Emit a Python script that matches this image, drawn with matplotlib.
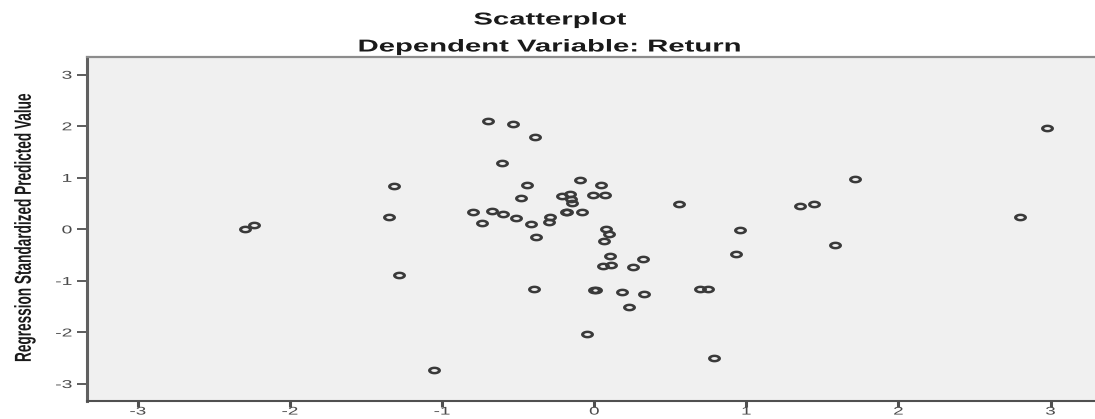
import numpy as np
import matplotlib
matplotlib.use("Agg")
import matplotlib.pyplot as plt
from matplotlib.path import Path
from matplotlib.markers import MarkerStyle
from matplotlib.transforms import Affine2D
from matplotlib.patheffects import AbstractPathEffect
from matplotlib.ticker import FixedLocator

# Standardized residuals (x) and standardized predicted values (y)
std_residual = [-2.296, -2.237, -1.315, -1.348, -1.285, -1.054, -0.701, -0.535,
                -0.388, -0.607, -0.442, -0.094, 0.046, -0.484, -0.214, -0.160,
                -0.153, -0.145, -0.007, 0.072, 0.555, -0.800, -0.671, -0.600,
                -0.513, -0.736, -0.416, -0.291, -0.296, -0.186, -0.180, -0.083,
                -0.383, 0.077, 0.095, 0.062, 0.103, 0.055, 0.112, 0.318,
                0.254, -0.398, -0.002, 0.012, 0.180, 0.327, 0.698, 0.750,
                0.226, -0.046, 0.785, 0.956, 0.934, 2.976, 1.714, 1.355,
                1.443, 1.583, 2.801]
std_predicted = [0.006, 0.083, 0.845, 0.232, -0.886, -2.721, 2.112, 2.047,
                 1.783, 1.279, 0.858, 0.961, 0.865, 0.600, 0.651, 0.684,
                 0.581, 0.516, 0.665, 0.665, 0.496, 0.341, 0.355, 0.302,
                 0.225, 0.116, 0.109, 0.244, 0.147, 0.329, 0.335, 0.329,
                 -0.143, 0.006, -0.085, -0.221, -0.517, -0.711, -0.698, -0.570,
                 -0.731, -1.151, -1.176, -1.172, -1.210, -1.250, -1.148, -1.157,
                 -1.510, -2.029, -2.494, -0.014, -0.473, 1.963, 0.975, 0.446,
                 0.490, -0.304, 0.238]

tick_values = [-3, -2, -1, 0, 1, 2, 3]
title_text = "Scatterplot"
subtitle_text = "Dependent Variable: Return"
ylabel_text = "Regression Standardized Predicted Value"

WIDEN = 1.7          # horizontal widening applied to all text
FONT = "Liberation Sans"


class WideText(AbstractPathEffect):
    """Draw a text artist horizontally widened about its anchor point."""

    def __init__(self, text, factor):
        super().__init__()
        self.text = text
        self.factor = factor

    def draw_path(self, renderer, gc, tpath, affine, rgbFace=None):
        x0 = self.text.get_transform().transform(
            self.text.get_unitless_position())[0]
        wide = Affine2D().translate(-x0, 0).scale(self.factor, 1).translate(x0, 0)
        renderer.draw_path(gc, tpath, affine + wide, rgbFace)


def widen(text):
    text.set_path_effects([WideText(text, WIDEN)])
    return text


def ring_marker(ry=0.6, ix=0.5, iy=0.22, n=60):
    """Open elliptical ring as a filled compound path."""
    t = np.linspace(0, 2 * np.pi, n, endpoint=False)
    outer = np.column_stack([np.cos(t), ry * np.sin(t)])
    inner = np.column_stack([ix * np.cos(t[::-1]), iy * np.sin(t[::-1])])
    verts, codes = [], []
    for ring in (outer, inner):
        verts.extend(ring.tolist())
        verts.append(ring[0].tolist())
        codes.extend([Path.MOVETO] + [Path.LINETO] * (n - 1) + [Path.CLOSEPOLY])
    return Path(np.array(verts), codes)


W, H, DPI = 1095, 419, 100
fig = plt.figure(figsize=(W / DPI, H / DPI), dpi=DPI, facecolor="white")

left_px, right_px, top_px, bottom_px = 87, 1101.5, 57.5, 401
ax = fig.add_axes([left_px / W, 1 - bottom_px / H,
                   (right_px - left_px) / W, (bottom_px - top_px) / H])
ax.set_facecolor("#f0f0f0")

ax.plot(std_residual, std_predicted, linestyle="none",
        marker=MarkerStyle(ring_marker()), markersize=9.3,
        markerfacecolor="#3a3a3a", markeredgewidth=0, zorder=3)

ax.set_xlim(-3.335, 3.335)
ax.set_ylim(-3.33, 3.335)
ax.xaxis.set_major_locator(FixedLocator(tick_values))
ax.yaxis.set_major_locator(FixedLocator(tick_values))
ax.set_xticklabels([str(v) for v in tick_values])
ax.set_yticklabels([str(v) for v in tick_values])

for lab in ax.get_xticklabels() + ax.get_yticklabels():
    lab.set_fontfamily(FONT)
    widen(lab)

ax.tick_params(axis="y", direction="out", length=7.5, width=1.4,
               color="#5c5c5c", pad=3, labelsize=8.2, labelcolor="#4a4a4a")
ax.tick_params(axis="x", direction="out", length=4.0, width=2.2,
               color="#505050", pad=0.0, labelsize=8.0, labelcolor="#4a4a4a")

ax.spines["top"].set_color("#8c8c8c")
ax.spines["top"].set_linewidth(1.6)
ax.spines["left"].set_color("#606060")
ax.spines["left"].set_linewidth(2.2)
ax.spines["bottom"].set_color("#505050")
ax.spines["bottom"].set_linewidth(1.5)
ax.spines["right"].set_visible(False)

cx = 550 / W
widen(fig.text(cx, 1 - 24.5 / H, title_text, ha="center", va="baseline",
               fontsize=12.4, fontweight="bold", family=FONT, color="#1a1a1a"))
widen(fig.text(cx, 1 - 51.5 / H, subtitle_text, ha="center", va="baseline",
               fontsize=12.4, fontweight="bold", family=FONT, color="#1a1a1a"))
widen(fig.text(24 / W, 1 - 228 / H, ylabel_text, rotation=90, ha="center",
               va="center", fontsize=9.8, fontweight="bold", family=FONT,
               color="#1a1a1a"))

fig.savefig("out.png", dpi=DPI, facecolor="white")
